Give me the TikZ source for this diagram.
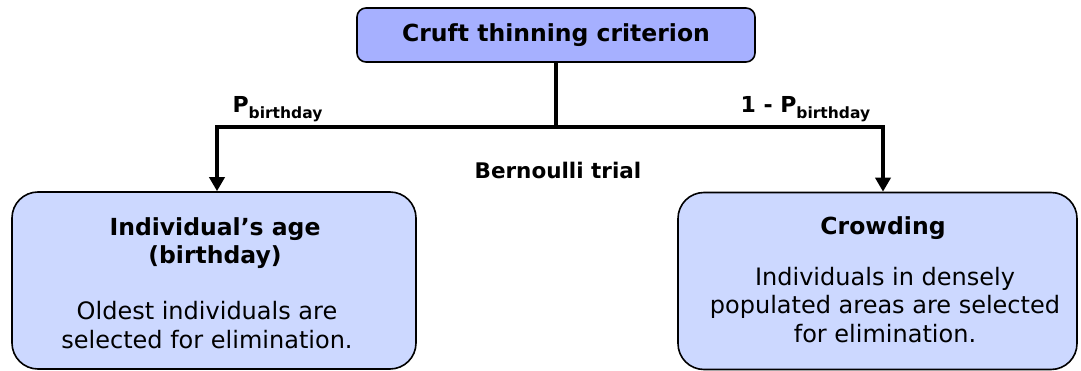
\documentclass[tikz,border=0pt]{standalone}
\usepackage{fontspec}
\setmainfont{DejaVu Sans}
\usetikzlibrary{arrows.meta,positioning,calc}
\definecolor{critblue}{HTML}{A6B0FF}
\definecolor{optblue}{HTML}{CCD8FF}
\newcommand{\pbday}{P\raisebox{-0.45ex}{\fontsize{15.5}{15.5}\selectfont birthday}}

\begin{document}
\begin{tikzpicture}[x=1pt,y=-1pt,
    critbox/.style={draw, line width=1.6pt, rounded corners=9pt, fill=critblue,
      minimum width=398pt, minimum height=54pt, font=\fontsize{23.5}{27}\selectfont\bfseries},
    optbox/.style={draw, line width=1.6pt, rounded corners=26pt, fill=optblue, minimum height=177pt},
    boxtitle/.style={font=\fontsize{23.5}{28}\selectfont\bfseries, align=center},
    boxtext/.style={font=\fontsize{24}{28.5}\selectfont, align=center},
    branch/.style={line width=3.5pt},
    tip/.style={-{Triangle[length=14pt,width=15pt]}},
    prob/.style={font=\fontsize{22}{26}\selectfont\bfseries, anchor=base west}]
  \useasboundingbox (0,0) rectangle (1081,371);
  % criterio
  \node[critbox] (crit) at (556,35) {Cruft thinning criterion};
  % caixas das opcoes
  \node[optbox, minimum width=404pt] (age) at (214,280.5) {};
  \node[optbox, minimum width=399pt] (crowd) at (877.5,281) {};
  % textos
  \node[boxtitle] (agetitle) at (215,243) {Individual’s age\\(birthday)};
  \node[boxtext] (agetext) at (207,325) {Oldest individuals are\\selected for elimination.};
  \node[boxtitle, anchor=base] (crowdtitle) at (883,235) {Crowding};
  \node[boxtext] (crowdtext) at (885,305) {Individuals in densely\\populated areas are selected\\for elimination.};
  % ramos
  \coordinate (fork) at (556,127);
  \draw[branch] (crit.south) -- (fork);
  \draw[branch, tip] (fork) -| ([xshift=3pt]age.north);
  \draw[branch, tip] (fork) -| ([xshift=5.5pt]crowd.north);
  % probabilidades
  \node[prob] (pleft) at (229,113) {\pbday};
  \node[prob] (pright) at (737,113) {1 - \pbday};
  \node[font=\fontsize{21.5}{25}\selectfont\bfseries] (trial) at (558,170) {Bernoulli trial};
\end{tikzpicture}
\end{document}
